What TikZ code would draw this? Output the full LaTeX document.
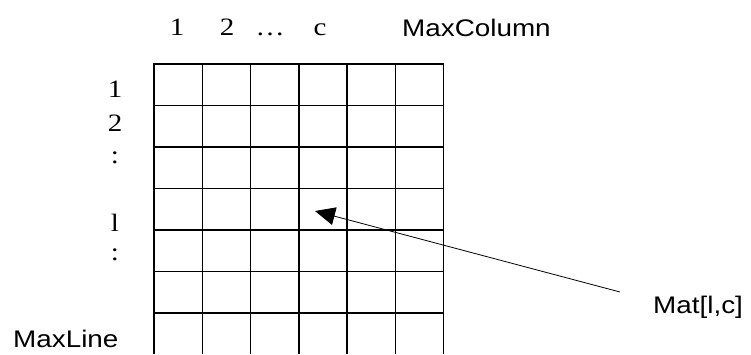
\documentclass[tikz,border=0pt]{standalone}
\usepackage{fontspec}
\setmainfont{Liberation Serif}[FakeStretch=1.16]
\newfontfamily\arialfont{Liberation Sans}[FakeStretch=1.16]
\usetikzlibrary{arrows.meta}

\tikzset{
  gridline/.style={line width=1.5pt},
  idx/.style={font=\fontsize{25}{27}\selectfont, anchor=base, inner sep=0pt},
  caption/.style={font=\arialfont\fontsize{24}{26}\selectfont, anchor=base west, inner sep=0pt},
}

\begin{document}
\begin{tikzpicture}[x=1pt,y=-1pt]
  \useasboundingbox (0,0) rectangle (751,354);
  % the matrix, open at the bottom
  \foreach \y in {64,105.5,147,188.5,230,271.5,313}
    \draw[gridline] (153.25,\y) -- (444.25,\y);
  \foreach \x in {154,202.25,250.5,298.75,347,395.25,443.5}
    \draw[gridline] (\x,63.25) -- (\x,354);
  % column indices
  \node[idx] (col1) at (177,35) {1};
  \node[idx] (col2) at (227,35) {2};
  \node[idx] (coldots) at (270,35) {…};
  \node[idx] (colc) at (320,35) {c};
  \node[caption] (maxcol) at (402,36) {MaxColumn};
  % line indices
  \node[idx] (row1) at (115,97) {1};
  \node[idx] (row2) at (115,131) {2};
  \node[idx] (rowdots) at (115,163) {:};
  \node[idx] (rowl) at (115,231) {l};
  \node[idx] (rowdotsb) at (115,260) {:};
  \node[caption] (maxline) at (13,347) {MaxLine};
  % element pointer
  \node[caption] (mat) at (653,313) {Mat[l,c]};
  \coordinate (matend) at (620,292);
  \coordinate (cell) at (315,211);
  \draw[-{Triangle[length=20pt,width=18pt]}, line width=0.8pt] (matend) -- (cell);
\end{tikzpicture}
\end{document}
